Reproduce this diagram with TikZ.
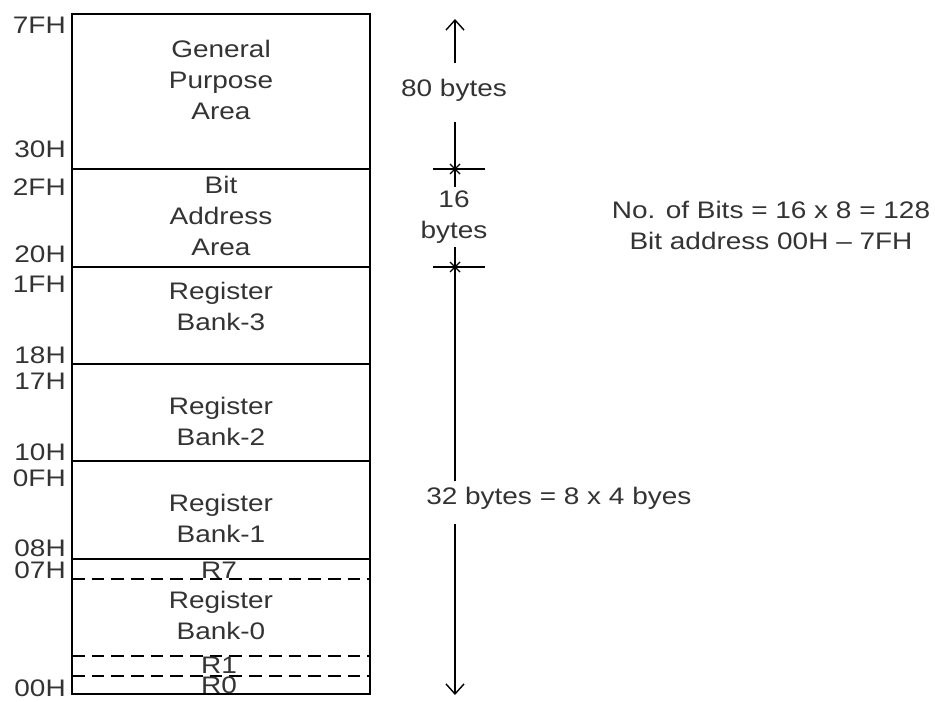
\documentclass[tikz,border=0pt]{standalone}
\usepackage{fontspec}
\setmainfont{Liberation Sans}[FakeStretch=1.17]
\usetikzlibrary{arrows.meta}
\tikzset{
  mem/.style     = {line width=1.4pt},
  regsep/.style  = {line width=1.2pt, dash pattern=on 9pt off 5pt},
  txt/.style     = {align=center, text=black!80, inner sep=0pt,
                    font=\fontsize{17}{22}\selectfont},
  addr/.style    = {txt, anchor=east},
  dimline/.style = {line width=1pt},
  dimarrow/.style= {dimline, -{Straight Barb[length=2.5mm,width=4.5mm]}},
  tick/.style    = {line width=1pt},
}

\begin{document}
\begin{tikzpicture}[x=0.025cm,y=-0.025cm]
  \useasboundingbox (0,0) rectangle (935,702);
  \draw[mem] (72,14) rectangle (370,694);
  \foreach \y in {169,267,364,461,559} \draw[mem] (72,\y) -- (370,\y);
  \foreach \y in {579,656,676} \draw[regsep] (72,\y) -- (370,\y);

  \node[txt] (gpa)   at (221,80)  {General\\Purpose\\Area};
  \node[txt] (bita)  at (221,216) {Bit\\Address\\Area};
  \node[txt] (bank3) at (221,306) {Register\\Bank-3};
  \node[txt] (bank2) at (221,421) {Register\\Bank-2};
  \node[txt] (bank1) at (221,518) {Register\\Bank-1};
  \node[txt] (bank0) at (221,615) {Register\\Bank-0};
  \node[txt] (r7)    at (219,570) {R7};
  \node[txt] (r1)    at (219,665) {R1};
  \node[txt] (r0)    at (219,685) {R0};

  \node[addr] (a7f) at (66,25)  {7FH};
  \node[addr] (a30) at (66,149) {30H};
  \node[addr] (a2f) at (66,187) {2FH};
  \node[addr] (a20) at (66,254) {20H};
  \node[addr] (a1f) at (66,284) {1FH};
  \node[addr] (a18) at (66,355) {18H};
  \node[addr] (a17) at (66,381) {17H};
  \node[addr] (a10) at (66,452) {10H};
  \node[addr] (a0f) at (66,478) {0FH};
  \node[addr] (a08) at (66,548) {08H};
  \node[addr] (a07) at (66,570) {07H};
  \node[addr] (a00) at (66,688) {00H};

  \coordinate (top)  at (455,19);
  \coordinate (s1a)  at (455,63);
  \coordinate (s1b)  at (455,122);
  \coordinate (x1)   at (455,169);
  \coordinate (s1c)  at (455,187);
  \coordinate (s2a)  at (455,247);
  \coordinate (x2)   at (455,267);
  \coordinate (s2b)  at (455,481);
  \coordinate (s3a)  at (455,524);
  \coordinate (bot)  at (455,695);

  \node[txt] (b80) at (454,90)  {80 bytes};
  \node[txt] (b16) at (454,217) {16\\bytes};
  \node[txt,anchor=west] (b32) at (426,498) {32 bytes = 8 x 4 byes};
  \node[txt] (bits) at (771,225) {No. of Bits = 16 x 8 = 128\\Bit address 00H -- 7FH};

  \draw[dimarrow] (s1a) -- (top);
  \draw[dimline] (s1b) -- (s1c);
  \draw[dimline] (s2a) -- (s2b);
  \draw[dimarrow] (s3a) -- (bot);
  \foreach \c in {x1,x2} {
    \draw[tick] ([xshift=-22*0.025cm]\c) -- ([xshift=30*0.025cm]\c);
    \draw[tick] ([shift={(-5,-5)}]\c) -- ([shift={(5,5)}]\c);
    \draw[tick] ([shift={(-5,5)}]\c) -- ([shift={(5,-5)}]\c);
  }
\end{tikzpicture}
\end{document}
